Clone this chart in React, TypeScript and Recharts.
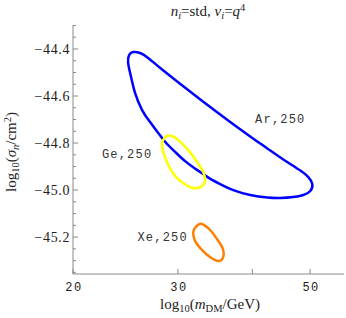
import React from "react";
import { ComposedChart, Scatter, XAxis, YAxis, ReferenceDot } from "recharts";

// contours, mass in GeV, sigma as log10(sigma/cm^2)
const arMass = [29.91, 31.83, 33.99, 36.43, 39.67, 42.38, 45.08, 48.15, 49.66, 50.43, 50.04, 48.71, 46.86, 44.56, 42.38, 39.67, 37.15, 35.6, 34.24, 33.07, 31.95, 30.85, 29.68, 28.67, 27.8, 26.94, 26.12, 25.42, 25.03, 24.75, 24.84, 25.23, 25.92, 26.74, 28.02, 29.91];
const arSigma = [-44.538, -44.591, -44.647, -44.704, -44.772, -44.823, -44.87, -44.917, -44.945, -44.974, -45.004, -45.021, -45.03, -45.034, -45.032, -45.021, -45.0, -44.979, -44.957, -44.932, -44.906, -44.877, -44.838, -44.8, -44.757, -44.711, -44.66, -44.587, -44.519, -44.46, -44.426, -44.413, -44.417, -44.438, -44.481, -44.538];

const geMass = [29.0, 29.79, 30.61, 31.58, 32.44, 33.07, 33.33, 33.07, 32.31, 31.22, 30.15, 29.34, 28.78, 28.34, 28.22, 28.45, 29.0];
const geSigma = [-44.902, -44.945, -44.97, -44.989, -44.991, -44.979, -44.957, -44.923, -44.881, -44.83, -44.791, -44.77, -44.77, -44.787, -44.813, -44.851, -44.902];

const xeMass = [32.7, 33.46, 34.24, 35.05, 35.6, 35.81, 35.6, 34.91, 33.99, 33.2, 32.57, 31.95, 31.83, 32.07, 32.7];
const xeSigma = [-45.247, -45.272, -45.291, -45.302, -45.294, -45.272, -45.243, -45.209, -45.17, -45.149, -45.145, -45.166, -45.187, -45.217, -45.247];

const labelNames = ["Ar,250", "Ge,250", "Xe,250"];
const labelMass = [44.56, 24.65, 28.28];
const labelSigma = [-44.698, -44.847, -45.2];

const bottomTicks = [20, 30, 40, 50];
const bottomLabels = [20, 30, 50];
const topTicks = [21, 22, 23, 24, 25, 26, 27, 28, 29, 30, 32, 34, 36, 38, 40, 42, 44, 46, 48, 50, 52, 54, 56];
const yTicks = [-45.35, -45.3, -45.25, -45.2, -45.15, -45.1, -45.05, -45.0, -44.95, -44.9, -44.85, -44.8, -44.75, -44.7, -44.65, -44.6, -44.55, -44.5, -44.45, -44.4, -44.35, -44.3];

const zip = (xs: number[], ys: number[]) => xs.map((m, i) => ({ m, s: ys[i] }));

const gray = "#8a8a8a";
const isMajorY = (v: number) => Math.abs(v * 5 - Math.round(v * 5)) < 1e-6;

function BottomTick(props: any) {
  const { x, y, payload } = props;
  const v = payload.value;
  return (
    <g>
      <line x1={x} x2={x} y1={y} y2={y - 5} stroke={gray} />
      {bottomLabels.includes(v) && (
        <text x={x + 1} y={y + 17} textAnchor="middle" fontFamily="Liberation Mono" fontSize={12} letterSpacing={1.5} fill="#222">
          {v}
        </text>
      )}
    </g>
  );
}

function TopTick(props: any) {
  const { x, y, payload } = props;
  const len = payload.value % 10 === 0 ? 5 : 3;
  return <line x1={x} x2={x} y1={y} y2={y + len} stroke={gray} />;
}

function LeftTick(props: any) {
  const { x, y, payload } = props;
  const v = payload.value;
  const major = isMajorY(v);
  return (
    <g>
      <line x1={x} x2={x + (major ? 5 : 3)} y1={y} y2={y} stroke={gray} />
      {major && (
        <text x={x - 3} y={y + 5} textAnchor="end" fontFamily="Liberation Serif" fontSize={14} letterSpacing={0.6} fill="#222">
          {v.toFixed(1).replace("-", "\u2212")}
        </text>
      )}
    </g>
  );
}

function RightTick(props: any) {
  const { x, y, payload } = props;
  const len = isMajorY(payload.value) ? 5 : 3;
  return <line x1={x} x2={x - len} y1={y} y2={y} stroke={gray} />;
}

const serif: React.CSSProperties = { fontFamily: "Liberation Serif", fontSize: 15, color: "#222", whiteSpace: "nowrap", lineHeight: 1 };
const sub: React.CSSProperties = { fontSize: "0.7em", verticalAlign: "-0.3em" };
const sup: React.CSSProperties = { fontSize: "0.7em", verticalAlign: "0.5em" };

export default function App() {
  const series = [
    { key: "ar", pts: zip(arMass, arSigma), color: "#0000ff" },
    { key: "ge", pts: zip(geMass, geSigma), color: "#ffff00" },
    { key: "xe", pts: zip(xeMass, xeSigma), color: "#ff8000" },
  ];
  return (
    <div style={{ position: "absolute", left: 0, top: 0, width: 346, height: 318, background: "#fff" }}>
      <ComposedChart width={346} height={318} margin={{ top: 25, right: 2, bottom: 0, left: 0 }}>
        <XAxis
          dataKey="m"
          type="number"
          scale="log"
          domain={[20, 57]}
          allowDataOverflow
          ticks={bottomTicks}
          interval={0}
          height={44}
          tickSize={0}
          tickMargin={0}
          tickLine={false}
          axisLine={{ stroke: gray }}
          tick={BottomTick}
        />
        <XAxis
          xAxisId="top"
          orientation="top"
          dataKey="m"
          type="number"
          scale="log"
          domain={[20, 57]}
          allowDataOverflow
          ticks={topTicks}
          interval={0}
          height={0}
          tickSize={0}
          tickMargin={0}
          tickLine={false}
          axisLine={{ stroke: gray }}
          tick={TopTick}
        />
        <YAxis
          dataKey="s"
          type="number"
          domain={[-45.357, -44.298]}
          allowDataOverflow
          ticks={yTicks}
          interval={0}
          width={73}
          tickSize={0}
          tickMargin={0}
          tickLine={false}
          axisLine={{ stroke: gray }}
          tick={LeftTick}
        />
        <YAxis
          yAxisId="right"
          orientation="right"
          dataKey="s"
          type="number"
          domain={[-45.357, -44.298]}
          allowDataOverflow
          ticks={yTicks}
          interval={0}
          width={0}
          tickSize={0}
          tickMargin={0}
          tickLine={false}
          axisLine={{ stroke: gray }}
          tick={RightTick}
        />
        {series.map((sr) => (
          <Scatter
            key={sr.key}
            data={sr.pts}
            dataKey="s"
            line={{ stroke: sr.color, strokeWidth: 2.5 }}
            lineJointType="natural"
            shape={() => <g />}
            fill="none"
            isAnimationActive={false}
          />
        ))}
        {labelNames.map((name, i) => (
          <ReferenceDot
            key={name}
            x={labelMass[i]}
            y={labelSigma[i]}
            r={0}
            fill="none"
            stroke="none"
            ifOverflow="visible"
            label={{
              content: (p: any) => {
                const vb = p.viewBox || {};
                const cx = (vb.x || 0) + (vb.width || 0) / 2;
                const cy = (vb.y || 0) + (vb.height || 0) / 2;
                return (
                  <text x={cx} y={cy + 4} textAnchor="middle" fontFamily="Liberation Mono" fontSize={12} letterSpacing={1.2} fill="#333">
                    {name}
                  </text>
                );
              },
            }}
          />
        ))}
      </ComposedChart>
      <div style={{ ...serif, position: "absolute", left: 208, top: 3, transform: "translateX(-50%)" }}>
        <i>n</i><span style={sub}><i>i</i></span>=std, <i>ν</i><span style={sub}><i>i</i></span>=<i>q</i><span style={sup}>4</span>
      </div>
      <div style={{ ...serif, position: "absolute", left: 210, top: 297, transform: "translateX(-50%)" }}>
        log<span style={sub}>10</span>(<i>m</i><span style={sub}>DM</span>/GeV)
      </div>
      <div style={{ ...serif, position: "absolute", left: 12, top: 152, transform: "translate(-50%, -50%) rotate(-90deg)" }}>
        log<span style={sub}>10</span>(<i>σ</i><span style={sub}><i>n</i></span>/cm<span style={sup}>2</span>)
      </div>
    </div>
  );
}
